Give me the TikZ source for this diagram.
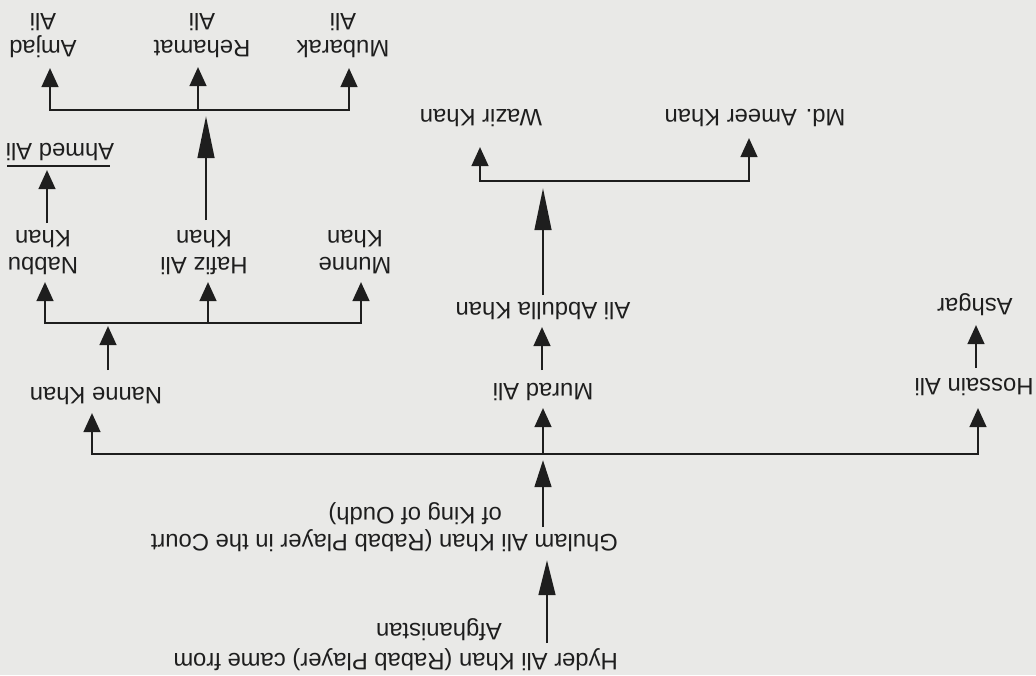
\documentclass[tikz,border=0pt]{standalone}
\usepackage{fontspec}
\setmainfont{Liberation Sans}
\usetikzlibrary{arrows.meta}
\definecolor{paper}{RGB}{233,233,231}
\definecolor{ink}{RGB}{30,30,30}
\begin{document}
\begin{tikzpicture}[x=1pt,y=1pt,
  lbl/.style={inner sep=0pt, text=ink, font=\fontsize{23.8}{27.5}\selectfont},
  wire/.style={draw=ink, line width=2.8pt, line join=miter},
  arr/.style={wire, -{Triangle[length=#1,width=16.5pt]}},
  arr/.default=19pt]
\fill[paper] (0,0) rectangle (1036,-675);
\useasboundingbox (0,0) rectangle (1036,-675);
\begin{scope}[rotate=180, transform shape]
  % ---- text nodes (scope coordinates: (-x, y) of the image; base = last line) ----
  \node[lbl, anchor=base west, align=left] (hyder) at (-618,623)
    {Hyder Ali Khan (Rabab Player) came from\\[2.5pt]\hspace*{116pt}Afghanistan};
  \node[lbl, anchor=base west, align=left] (ghulam) at (-618,507)
    {Ghulam Ali Khan (Rabab Player in the Court\\\hspace*{116pt}of King of Oudh)};
  \node[lbl, anchor=base] (nanne)   at (-96,387)  {Nanne Khan};
  \node[lbl, anchor=base] (murad)   at (-543,383) {Murad Ali};
  \node[lbl, anchor=base] (hossain) at (-974,378) {Hossain Ali};
  \node[lbl, anchor=base] (abdulla) at (-543,302) {Ali Abdulla Khan};
  \node[lbl, anchor=base] (ashgar)  at (-975,298) {Ashgar};
  \node[lbl, anchor=base, align=center] (nabbu) at (-43,230)  {Nabbu\\Khan};
  \node[lbl, anchor=base, align=center] (hafiz) at (-204,230) {Hafiz Ali\\Khan};
  \node[lbl, anchor=base, align=center] (munne) at (-355,230) {Munne\\Khan};
  \node[lbl, anchor=base] (ahmed)   at (-60,143)  {Ahmed Ali};
  \node[lbl, anchor=base] (wazir)   at (-481,109) {Wazir Khan};
  \node[lbl, anchor=base] (ameer)   at (-755,109) {Md. Ameer Khan};
  \node[lbl, anchor=base, align=center] (amjad)   at (-43,13)  {Amjad\\Ali};
  \node[lbl, anchor=base, align=center] (rehamat) at (-202,13) {Rehamat\\Ali};
  \node[lbl, anchor=base, align=center] (mubarak) at (-343,13) {Mubarak\\Ali};

  % ---- connector end points ----
  \coordinate (hyder-out)   at (-547,643);
  \coordinate (ghulam-in)   at (-547,560);
  \coordinate (ghulam-out)  at (-543,527);
  \coordinate (j1)          at (-543,454);
  \coordinate (j1-top)      at (-543,460);
  \coordinate (nanne-in)    at (-92,413);
  \coordinate (murad-in)    at (-543,408);
  \coordinate (hossain-in)  at (-978,408);
  \coordinate (nanne-out)   at (-108,370);
  \coordinate (j2)          at (-108,323);
  \coordinate (j2-top)      at (-108,326);
  \coordinate (nabbu-in)    at (-45,282);
  \coordinate (hafiz-in)    at (-208,282);
  \coordinate (munne-in)    at (-361,282);
  \coordinate (nabbu-out)   at (-47,223);
  \coordinate (ahmed-in)    at (-47,170);
  \coordinate (ahmedbarL)   at (-7,166);
  \coordinate (ahmedbarR)   at (-110,166);
  \coordinate (hafiz-out)   at (-206,220);
  \coordinate (j3-top)      at (-206,116);
  \coordinate (j3)          at (-198,110);
  \coordinate (amjad-in)    at (-50,68);
  \coordinate (rehamat-in)  at (-198,67);
  \coordinate (mubarak-in)  at (-349,68);
  \coordinate (murad-out)   at (-542,370);
  \coordinate (abdulla-in)  at (-542,327);
  \coordinate (abdulla-out) at (-543,295);
  \coordinate (j4-top)      at (-543,188);
  \coordinate (j4)          at (-543,181);
  \coordinate (wazir-in)    at (-480,147);
  \coordinate (ameer-in)    at (-749,138);
  \coordinate (hossain-out) at (-976,368);
  \coordinate (ashgar-in)   at (-976,325);

  % ---- connectors ----
  \draw[arr=35pt] (hyder-out) -- (ghulam-in);
  \draw[arr=27pt] (ghulam-out) -- (j1-top);
  \draw[arr] (j1) -| (nanne-in);
  \draw[arr] (j1) -- (murad-in);
  \draw[arr] (j1) -| (hossain-in);
  \draw[arr] (nanne-out) -- (j2-top);
  \draw[arr] (j2) -| (nabbu-in);
  \draw[arr] (j2) -| (hafiz-in);
  \draw[arr] (j2) -| (munne-in);
  \draw[arr] (nabbu-out) -- (ahmed-in);
  \draw[wire, line width=2.2pt] (ahmedbarL) -- (ahmedbarR);
  \draw[arr=42pt] (hafiz-out) -- (j3-top);
  \draw[arr] (j3) -| (amjad-in);
  \draw[arr] (j3) -- (rehamat-in);
  \draw[arr] (j3) -| (mubarak-in);
  \draw[arr] (murad-out) -- (abdulla-in);
  \draw[arr=42pt] (abdulla-out) -- (j4-top);
  \draw[arr] (j4) -| (wazir-in);
  \draw[arr] (j4) -| (ameer-in);
  \draw[arr] (hossain-out) -- (ashgar-in);
\end{scope}
\end{tikzpicture}
\end{document}
